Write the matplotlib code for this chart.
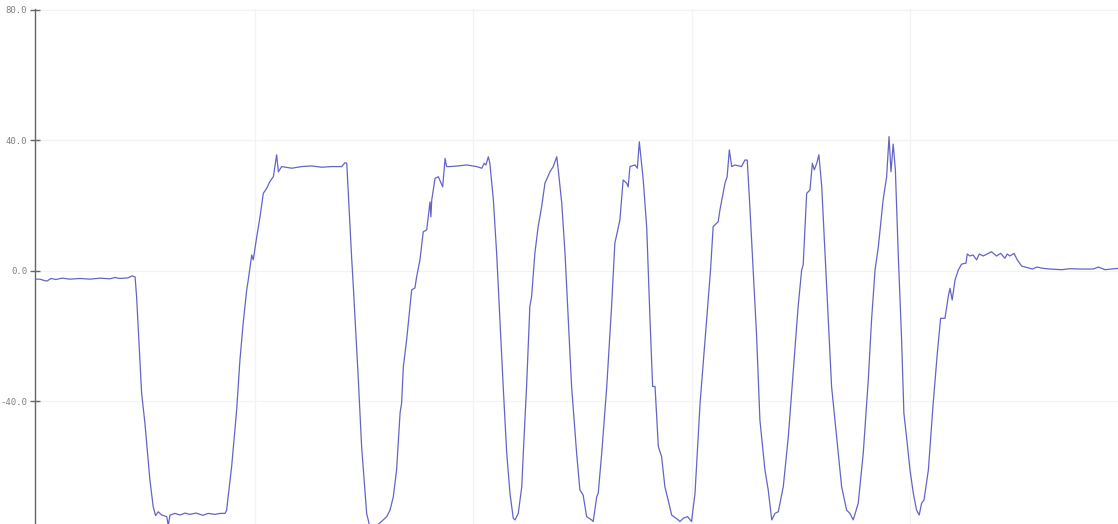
import matplotlib
matplotlib.use("Agg")
import matplotlib.pyplot as plt

# Abtastindex (Stichproben) und Messwert
samples = [
    -0.6, 1.7, 3.5, 4.9, 6.7, 9.0, 11.8, 15.4, 20.0, 24.6, 29.2, 33.7, 36.0, 38.3, 42.0, 43.8, 45.2,
    45.9, 48.2, 49.7, 52.0, 53.5, 54.6, 55.8, 57.4, 59.7, 60.4, 61.2, 63.5, 65.8, 68.1, 70.3, 73.1,
    76.3, 78.6, 81.8, 84.1, 86.4, 87.1, 89.4, 91.7, 93.2, 94.7, 96.3, 97.0, 98.6, 99.3, 100.9, 102.4,
    103.9, 105.4, 106.9, 108.5, 109.2, 110.0, 110.8, 112.3, 116.9, 121.5, 126.0, 130.6, 135.2, 139.8,
    141.3, 142.1, 143.1, 144.3, 145.1, 146.6, 147.4, 148.9, 151.2, 152.7, 155.8, 157.3, 160.4, 161.9,
    163.4, 164.9, 166.5, 167.2, 168.0, 169.5, 171.0, 171.8, 173.3, 174.1, 175.6, 177.1, 178.7, 179.4,
    180.2, 180.6, 181.0, 181.7, 182.5, 184.0, 186.0, 187.1, 187.8, 189.3, 193.0, 197.0, 201.6, 203.9,
    205.0, 205.8, 206.9, 207.6, 209.2, 210.7, 212.2, 213.7, 215.3, 216.8, 218.3, 219.1, 220.6, 222.2,
    222.9, 224.4, 225.9, 226.7, 228.2, 229.7, 231.3, 232.8, 235.1, 236.6, 238.2, 238.9, 240.5, 242.0,
    243.5, 245.0, 247.3, 248.8, 250.3, 251.9, 254.2, 254.9, 256.5, 257.2, 258.8, 261.1, 263.3, 264.8,
    267.1, 268.6, 270.2, 270.9, 271.7, 274.0, 275.1, 276.0, 277.8, 279.4, 280.9, 282.1, 283.2, 284.7,
    286.2, 287.7, 289.2, 290.8, 293.8, 294.6, 296.1, 298.1, 299.9, 301.5, 303.8, 306.8, 308.6, 309.8,
    312.1, 312.9, 315.2, 316.2, 317.2, 318.3, 319.8, 322.8, 324.3, 325.4, 326.6, 328.1, 329.7, 331.2,
    333.5, 335.0, 336.6, 338.1, 339.6, 341.9, 344.2, 346.5, 348.7, 350.3, 351.0, 352.6, 354.1, 355.2,
    356.1, 357.2, 358.2, 359.5, 361.0, 362.5, 364.0, 366.3, 368.6, 370.9, 372.4, 373.9, 376.2, 378.5,
    380.8, 382.3, 383.9, 385.4, 387.6, 389.2, 390.3, 391.2, 392.2, 393.2, 394.5, 396.0, 397.1, 398.3,
    399.9, 401.4, 402.9, 404.1, 405.2, 406.3, 408.3, 410.5, 412.4, 413.9, 415.9, 417.4, 418.2, 419.2,
    420.5, 422.0, 423.5, 425.5, 426.1, 427.3, 428.8, 430.4, 431.6, 433.4, 435.2, 437.2, 439.5, 441.4,
    443.3, 444.4, 445.6, 447.5, 449.0, 451.0, 453.3, 456.0, 457.9, 460.9, 463.9, 469.3, 473.1, 477.7,
    483.8, 486.1, 489.2, 495.1,
]
values = [
    -2.5, -2.5, -2.9, -3.1, -2.3, -2.6, -2.2, -2.5, -2.3, -2.5, -2.2, -2.4, -2.0, -2.3, -2.1, -1.5, -1.8,
    -7.9, -37.4, -46.6, -64.1, -72.3, -75.0, -73.8, -74.8, -75.3, -78.0, -74.8, -74.3, -74.8, -74.2, -74.6, -74.2,
    -74.9, -74.3, -74.6, -74.3, -74.3, -73.3, -60.0, -42.6, -27.3, -15.9, -5.8, -2.8, 4.9, 3.4, 10.5, 16.6,
    23.8, 25.3, 27.4, 28.9, 32.0, 35.6, 30.4, 32.0, 31.5, 32.0, 32.2, 31.8, 32.0, 32.0,
    33.2, 33.0, 19.7, 4.4, -4.8, -23.1, -33.4, -53.9, -74.3, -78.5, -78.0, -77.2, -75.3, -73.3,
    -69.2, -61.0, -43.5, -40.5, -29.3, -21.1, -10.9, -5.8, -5.2, -1.7, 3.4, 12.0, 12.6, 16.6,
    21.2, 16.6, 21.8, 24.8, 28.4, 28.9, 25.8, 34.5, 32.0, 32.0, 32.2, 32.5, 32.0, 31.5,
    33.0, 32.5, 35.0, 33.0, 21.8, 5.4, -15.0, -35.4, -55.8, -68.1, -75.8, -76.3, -74.3, -66.1,
    -55.8, -35.4, -10.9, -7.9, 5.4, 13.6, 19.7, 26.9, 30.4, 32.0, 35.0, 31.0, 20.8, 5.4,
    -15.0, -35.4, -55.8, -67.1, -68.7, -75.3, -76.3, -76.8, -69.2, -68.1, -55.8, -35.4, -10.9, 8.5,
    15.6, 27.9, 26.9, 25.8, 32.0, 32.5, 31.5, 39.6, 27.9, 13.2, -15.0, -35.4, -35.4, -53.8,
    -56.9, -66.1, -70.2, -74.8, -76.3, -76.8, -75.8, -75.3, -76.8, -68.1, -40.6, -15.0, 0.3, 13.6,
    15.1, 18.7, 26.9, 28.9, 37.1, 32.0, 32.5, 32.0, 34.0, 34.0, 19.7, 0.3, -20.1, -45.7,
    -61.0, -67.1, -76.3, -74.3, -73.8, -66.1, -50.8, -30.3, -10.9, 0.3, 1.8, 23.8, 24.8, 33.0,
    31.0, 33.0, 35.6, 25.8, 5.4, -15.0, -35.4, -50.8, -66.1, -73.3, -74.3, -76.3, -71.2, -55.8,
    -33.4, -15.0, 0.3, 7.4, 21.8, 28.9, 41.2, 30.4, 38.9, 31.0, 5.4, -20.1, -43.6, -50.8,
    -61.0, -68.1, -73.3, -74.8, -71.2, -70.2, -61.0, -40.6, -25.2, -14.5, -14.5, -7.9, -5.3, -8.9,
    -2.8, 0.3, 2.1, 2.4, 5.2, 4.6, 4.9, 3.4, 5.2, 4.6, 5.2, 5.9, 4.6, 5.4,
    3.9, 5.2, 4.6, 5.4, 3.4, 1.5, 1.1, 0.6, 1.2, 0.8, 0.6, 0.4, 0.7, 0.6,
    0.6, 1.2, 0.4, 0.8,
]
y_ticks = [-40, 0, 40, 80]
y_labels = ["-40.0", "0.0", "40.0", "80.0"]
x_grid = [100, 200, 300, 400]

fig = plt.figure(figsize=(11.18, 5.24), dpi=100)
ax = fig.add_axes([35 / 1118, 0, 1 - 35 / 1118, 515 / 524])

ax.plot(samples, values, color="#6464c8", linewidth=0.9)

ax.set_xlim(-0.6, 495.1)
ax.set_ylim(-77.55, 80.3)

ax.set_yticks(y_ticks)
ax.set_yticklabels(y_labels, fontfamily="DejaVu Sans Mono", fontsize=6.5, color="#808080")
ax.set_xticks(x_grid)
ax.tick_params(axis="x", length=0, labelbottom=False)
ax.tick_params(axis="y", direction="inout", length=7, width=1, color="#666666", pad=2)

ax.grid(True, color="#f3f3f3", linewidth=0.9)
ax.set_axisbelow(True)

for side in ["top", "right", "bottom"]:
    ax.spines[side].set_visible(False)
ax.spines["left"].set_color("#666666")
ax.spines["left"].set_linewidth(1.0)

fig.savefig("out.png", dpi=100)
